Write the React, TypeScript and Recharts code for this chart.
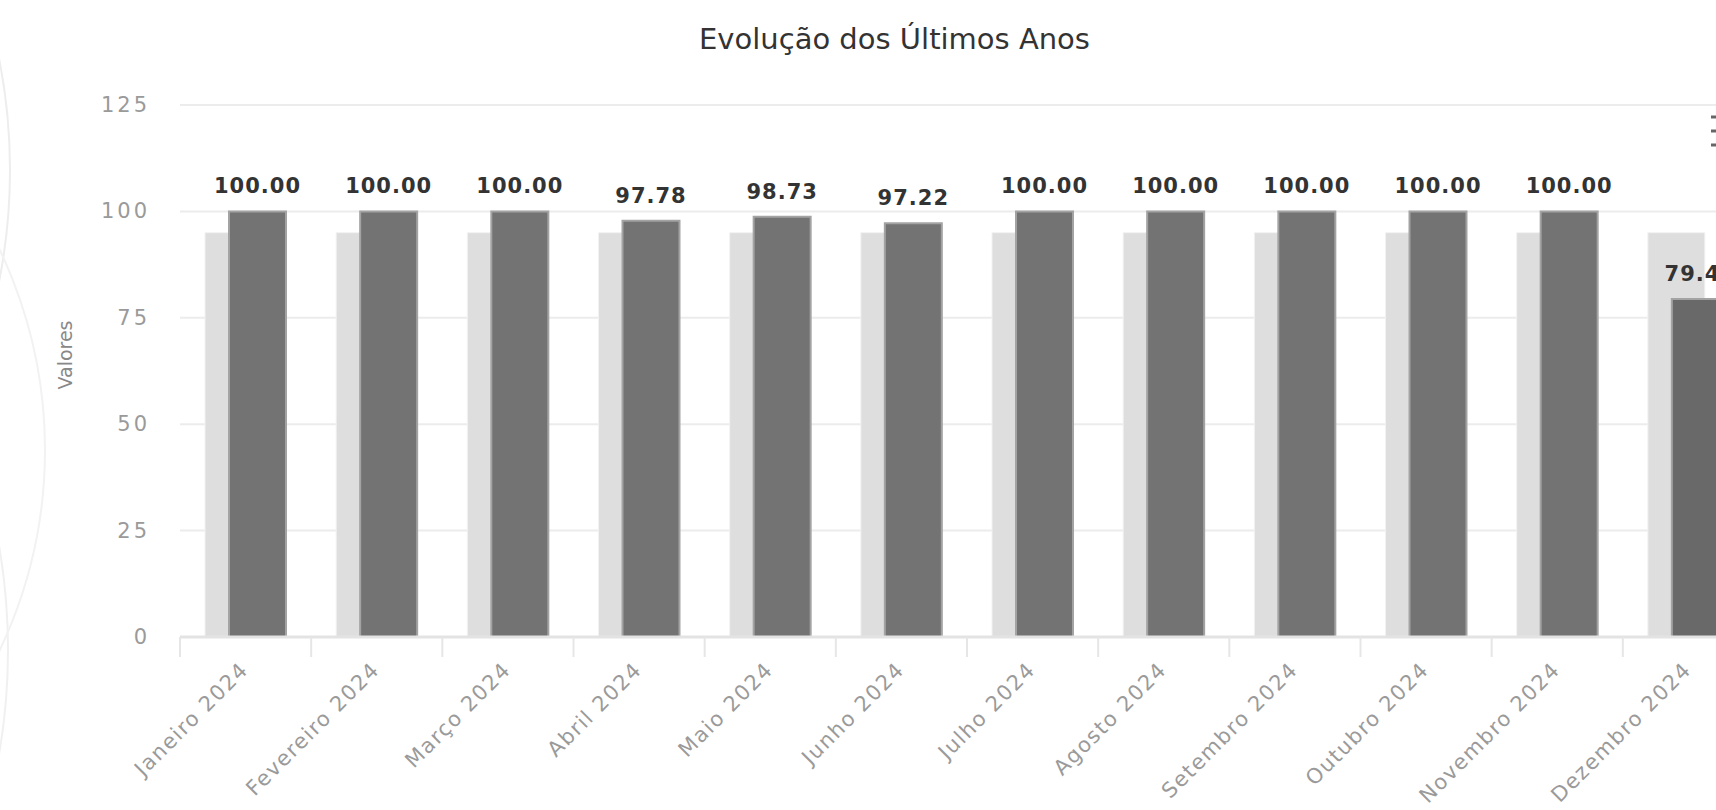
import React from "react";
import { BarChart, Bar, XAxis, YAxis, CartesianGrid, LabelList, Cell } from "recharts";

const categories = [
  "Janeiro 2024",
  "Fevereiro 2024",
  "Março 2024",
  "Abril 2024",
  "Maio 2024",
  "Junho 2024",
  "Julho 2024",
  "Agosto 2024",
  "Setembro 2024",
  "Outubro 2024",
  "Novembro 2024",
  "Dezembro 2024",
];
const metaValues = [95, 95, 95, 95, 95, 95, 95, 95, 95, 95, 95, 95];
const realValues = [100, 100, 100, 97.78, 98.73, 97.22, 100, 100, 100, 100, 100, 79.41];
const yTicks = [0, 25, 50, 75, 100, 125];

const title = "Evolução dos Últimos Anos";
const yTitle = "Valores";

const data = categories.map((c, i) => ({ mes: c, meta: metaValues[i], real: realValues[i] }));

const CHART_W = 1790;
const CHART_H = 810;
const MARGIN = { top: 105, right: 36, bottom: 0, left: 0 };
const Y_W = 180;
const X_H = 173;
const BAND = (CHART_W - MARGIN.left - MARGIN.right - Y_W) / categories.length;
const FONT = "'DejaVu Sans', sans-serif";

const XTick = (props: any) => {
  const { x, y, payload, index } = props;
  const half = BAND / 2;
  return (
    <g>
      <line x1={x - half} x2={x - half} y1={y} y2={y + 20} stroke="#e6e6e6" strokeWidth={2} />
      {index === categories.length - 1 && (
        <line x1={x + half} x2={x + half} y1={y} y2={y + 20} stroke="#e6e6e6" strokeWidth={2} />
      )}
      <text
        x={x + 4}
        y={y + 34}
        transform={`rotate(-45 ${x + 4} ${y + 34})`}
        textAnchor="end"
        fill="#9a9a9a"
        fontSize={21}
        letterSpacing={1.5}
        fontFamily={FONT}
      >
        {payload.value}
      </text>
    </g>
  );
};

const YTick = (props: any) => {
  const { x, y, payload } = props;
  return (
    <text x={x} y={y} textAnchor="end" dominantBaseline="central" fill="#9a9a9a" fontSize={21} letterSpacing={3} fontFamily={FONT}>
      {payload.value}
    </text>
  );
};

const TopLabel = (props: any) => {
  const { x, y, width, value } = props;
  return (
    <text
      x={x + width / 2}
      y={y - 18}
      textAnchor="middle"
      fill="#333"
      fontSize={21}
      fontWeight="bold"
      letterSpacing={1}
      fontFamily={FONT}
    >
      {Number(value).toFixed(2)}
    </text>
  );
};

export default function App() {
  return (
    <div
      style={{
        position: "fixed",
        left: 0,
        top: 0,
        width: 1716,
        height: 810,
        overflow: "hidden",
        background: "#fff",
      }}
    >
      <svg width={1716} height={810} style={{ position: "absolute", left: 0, top: 0 }}>
        <circle cx={-560} cy={170} r={570} fill="none" stroke="#ededed" strokeWidth={2} />
        <circle cx={-600} cy={650} r={608} fill="none" stroke="#f0f0f0" strokeWidth={2} />
        <circle cx={-420} cy={450} r={465} fill="none" stroke="#f2f2f2" strokeWidth={2} />
      </svg>
      <div style={{ position: "absolute", left: 0, top: 0 }}>
        <BarChart width={CHART_W} height={CHART_H} data={data} margin={MARGIN} barSize={57} barGap={-33}>
          <CartesianGrid vertical={false} stroke="#ececec" strokeWidth={2} />
          <XAxis
            dataKey="mes"
            interval={0}
            height={X_H}
            tickLine={false}
            tickSize={0}
            tickMargin={0}
            axisLine={{ stroke: "#e3e3e3", strokeWidth: 3 }}
            tick={<XTick />}
          />
          <YAxis
            width={Y_W}
            domain={[0, 125]}
            ticks={yTicks}
            axisLine={false}
            tickLine={false}
            tickSize={0}
            tickMargin={30}
            tick={<YTick />}
          />
          <Bar dataKey="meta" fill="#dedede" stroke="#f2f2f2" strokeWidth={1} isAnimationActive={false} />
          <Bar dataKey="real" fill="#737373" stroke="#a3a3a3" strokeWidth={2} isAnimationActive={false}>
            {data.map((d, i) => (
              <Cell key={d.mes} fill={i === data.length - 1 ? "#696969" : "#737373"} />
            ))}
            <LabelList dataKey="real" content={<TopLabel />} />
          </Bar>
        </BarChart>
      </div>
      <svg width={1716} height={810} style={{ position: "absolute", left: 0, top: 0, pointerEvents: "none" }}>
        <text x={894.5} y={49} textAnchor="middle" fill="#333" fontSize={29} fontFamily={FONT}>
          {title}
        </text>
        <text
          x={65}
          y={355}
          transform="rotate(-90 65 355)"
          textAnchor="middle"
          dominantBaseline="central"
          fill="#888"
          fontSize={19}
          fontFamily={FONT}
        >
          {yTitle}
        </text>
        <g stroke="#666" strokeWidth={3}>
          <line x1={1711} x2={1730} y1={117} y2={117} />
          <line x1={1711} x2={1730} y1={131} y2={131} />
          <line x1={1711} x2={1730} y1={145} y2={145} />
        </g>
      </svg>
    </div>
  );
}
